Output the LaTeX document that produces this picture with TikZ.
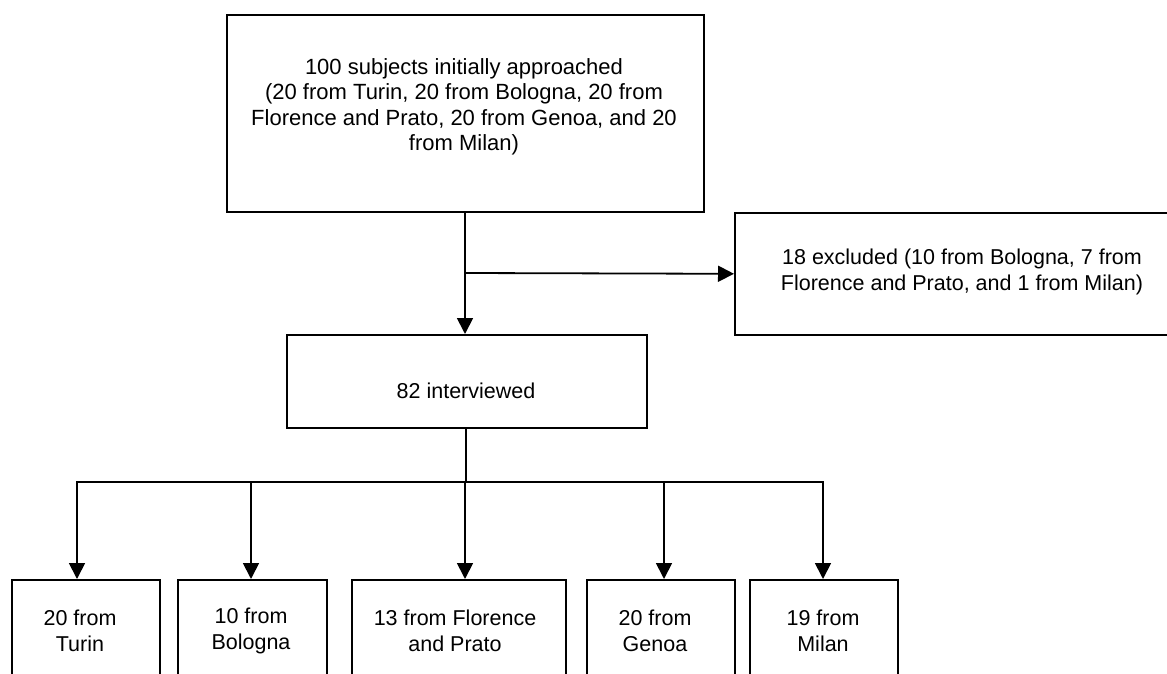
\documentclass[tikz,border=0pt]{standalone}
\usepackage{fontspec}
\setmainfont{Liberation Sans}
\usetikzlibrary{arrows.meta}
\begin{document}
\begin{tikzpicture}[x=1pt,y=-1pt,
  box/.style={draw,line width=1.6pt,inner sep=0pt,anchor=north west},
  lbl/.style={align=center,inner sep=0pt,font=\fontsize{21.5}{26}\selectfont},
  conn/.style={line width=1.8pt},
  arr/.style={conn,-{Triangle[length=16pt,width=16pt]}}]
\useasboundingbox (0,0) rectangle (1167,674);
\clip (0,0) rectangle (1167,674);
% boxes
\node[box,minimum width=477pt,minimum height=197pt] (top) at (226,14) {};
\node[box,minimum width=456pt,minimum height=122pt] (excl) at (734,212) {};
\node[box,minimum width=360pt,minimum height=93pt] (intv) at (286,334) {};
\node[box,minimum width=148pt,minimum height=140pt] (turin) at (11,579) {};
\node[box,minimum width=149pt,minimum height=140pt] (bologna) at (177,579) {};
\node[box,minimum width=214pt,minimum height=140pt] (florence) at (351,579) {};
\node[box,minimum width=148pt,minimum height=140pt] (genoa) at (586,579) {};
\node[box,minimum width=148pt,minimum height=140pt] (milan) at (749,579) {};
% texts
\node[lbl,font=\fontsize{22}{25.5}\selectfont] (top-t) at (464,107) {100 subjects initially approached\\(20 from Turin, 20 from Bologna, 20 from\\Florence and Prato, 20 from Genoa, and 20\\from Milan)};
\node[lbl] (excl-t) at (962,272) {18 excluded (10 from Bologna, 7 from\\Florence and Prato, and 1 from Milan)};
\node[lbl] (intv-t) at (466,391) {82 interviewed};
\node[lbl] (turin-t) at (80,631) {20 from\\Turin};
\node[lbl] (bologna-t) at (251,631) {10 from\\Bologna};
\node[lbl] (florence-t) at (455,631) {13 from Florence\\and Prato};
\node[lbl] (genoa-t) at (655,631) {20 from\\Genoa};
\node[lbl] (milan-t) at (823,631) {19 from\\Milan};
% connectors
\coordinate (trunk) at (465,211);
\coordinate (split) at (465,273);
\draw[conn] (trunk) -- (split);
\draw[arr] (split) -- (split |- intv.north);
\draw[arr] (split) -- (excl.west);
\coordinate (b0) at (466,427);
\coordinate (b1) at (77,482);
\coordinate (b2) at (251,482);
\coordinate (b3) at (465,482);
\coordinate (b4) at (664,482);
\coordinate (b5) at (823,482);
\draw[conn] (b0) -- (b0 |- b1);
\draw[conn] ([xshift=-0.9pt]b1) -- ([xshift=0.9pt]b5);
\draw[arr] (b1) -- (b1 |- turin.north);
\draw[arr] (b2) -- (b2 |- bologna.north);
\draw[arr] (b3) -- (b3 |- florence.north);
\draw[arr] (b4) -- (b4 |- genoa.north);
\draw[arr] (b5) -- (b5 |- milan.north);
\end{tikzpicture}
\end{document}
